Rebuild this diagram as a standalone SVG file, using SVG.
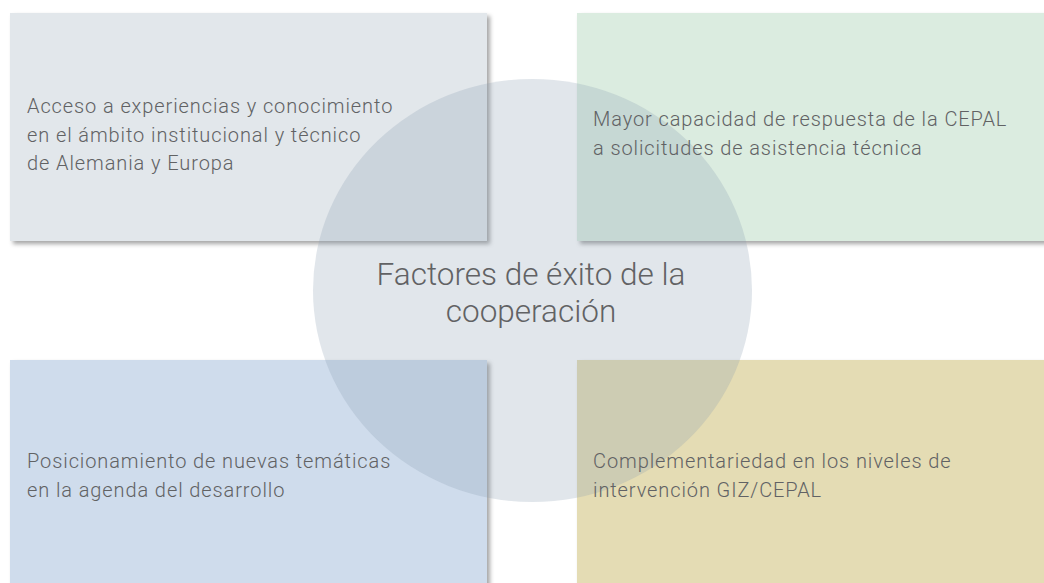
<svg xmlns="http://www.w3.org/2000/svg" width="1044" height="583" viewBox="0 0 1044 583">
  <defs>
    <filter id="shadow" x="-5%" y="-5%" width="112%" height="115%">
      <feDropShadow dx="3" dy="3" stdDeviation="2" flood-color="#000" flood-opacity="0.35"/>
    </filter>
    <style>
      .box { filter: url(#shadow); }
      .lbl { font-family: Roboto, "Open Sans", "Liberation Sans", sans-serif; font-weight: 300; font-size: 20px; letter-spacing: 0.9px; fill: #616264; }
      .title { font-family: Roboto, "Open Sans", "Liberation Sans", sans-serif; font-weight: 300; font-size: 31.5px; fill: #616264; text-anchor: middle; }
    </style>
  </defs>
  <rect width="1044" height="583" fill="#ffffff"/>
  <g id="node-tl">
    <rect class="box" x="10" y="13" width="477" height="228" fill="#e2e7eb"/>
  </g>
  <g id="node-tr">
    <rect class="box" x="577" y="13" width="480" height="228" fill="#dbece0"/>
  </g>
  <g id="node-bl">
    <rect class="box" x="10" y="360" width="477" height="240" fill="#cfdcec"/>
  </g>
  <g id="node-br">
    <rect class="box" x="577" y="360" width="480" height="240" fill="#e4dcb4"/>
  </g>
  <g id="node-center">
    <ellipse cx="532.5" cy="290.5" rx="219.5" ry="211.5" fill="#879baf" fill-opacity="0.25"/>
    <text class="title" x="531" y="285">Factores de éxito de la</text>
    <text class="title" x="531" y="322">cooperación</text>
  </g>
  <g id="labels">
    <text class="lbl" x="27" y="113">Acceso a experiencias y conocimiento</text>
    <text class="lbl" x="27" y="141.5">en el ámbito institucional y técnico</text>
    <text class="lbl" x="27" y="170">de Alemania y Europa</text>
    <text class="lbl" x="593" y="126">Mayor capacidad de respuesta de la CEPAL</text>
    <text class="lbl" x="593" y="155">a solicitudes de asistencia técnica</text>
    <text class="lbl" x="27" y="468">Posicionamiento de nuevas temáticas</text>
    <text class="lbl" x="27" y="497">en la agenda del desarrollo</text>
    <text class="lbl" x="593" y="468">Complementariedad en los niveles de</text>
    <text class="lbl" x="593" y="497">intervención GIZ/CEPAL</text>
  </g>
  <g id="connectors"/>
</svg>
